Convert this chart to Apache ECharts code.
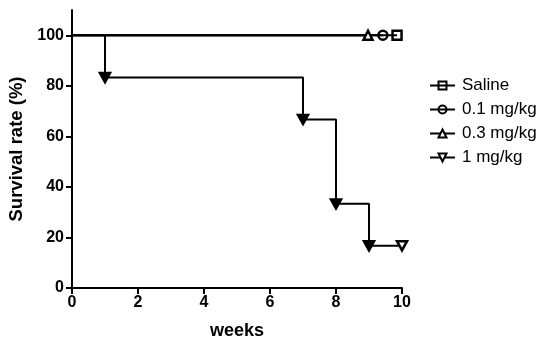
<!DOCTYPE html>
<html>
<head>
<meta charset="utf-8">
<script src="https://cdn.jsdelivr.net/npm/echarts@6/dist/echarts.min.js"></script>
<style>html,body{margin:0;padding:0;background:#fff}#c{width:550px;height:350px}</style>
</head>
<body>
<div id="c"></div>
<script>
var seriesNames = ['Saline', '0.1 mg/kg', '0.3 mg/kg', '1 mg/kg'];
var salineWeeks = [0, 9.85];
var salineSurv = [100, 100];
var dose01Weeks = [0, 9.42];
var dose01Surv = [100, 100];
var dose03Weeks = [0, 8.97];
var dose03Surv = [100, 100];
var dose1Weeks = [0, 1, 7, 8, 9, 10];
var dose1Surv = [100, 83.3, 66.7, 33.3, 16.7, 16.7];
var xTicks = [0, 2, 4, 6, 8, 10];
var yTicks = [0, 20, 40, 60, 80, 100];

function pairs(xs, ys) { return xs.map(function (x, i) { return [x, ys[i]]; }); }
function endMarked(xs, ys) {
  return pairs(xs, ys).map(function (p, i) {
    return i === xs.length - 1 ? { value: p } : { value: p, symbol: 'none' };
  });
}
var dose1Data = pairs(dose1Weeks, dose1Surv).map(function (p, i, arr) {
  if (i === 0) return { value: p, symbol: 'none' };
  if (i === arr.length - 1) return { value: p };
  return { value: p, itemStyle: { color: '#000' } };
});

var font = 'Liberation Sans, Arial, sans-serif';
var lineStyle = { color: '#000', width: 2 };
function mk(name, data, symbol, size, fill) {
  return {
    name: name, type: 'line', data: data, symbol: symbol, symbolSize: size,
    step: name === '1 mg/kg' ? 'end' : false,
    lineStyle: lineStyle,
    itemStyle: { color: fill, borderColor: '#000', borderWidth: 2.5 },
    showAllSymbol: true, animation: false, z: name === '1 mg/kg' ? 3 : 2
  };
}

var chart = echarts.init(document.getElementById('c'));
chart.setOption({
  animation: false,
  grid: { left: 72, right: 148, top: 10, bottom: 62, containLabel: false, outerBoundsMode: 'none' },
  legend: {
    orient: 'vertical', left: 424, top: 72, itemWidth: 25, itemHeight: 10, itemGap: 7,
    data: seriesNames,
    textStyle: { fontFamily: font, fontSize: 17, color: '#000', padding: [0, 0, 0, 2] }
  },
  xAxis: {
    type: 'value', min: 0, max: 10, interval: 2,
    name: 'weeks', nameLocation: 'middle', nameGap: 34,
    nameTextStyle: { fontFamily: font, fontSize: 18, fontWeight: 'bold', color: '#000' },
    axisLine: { lineStyle: { color: '#000', width: 2 } },
    axisTick: { length: 6, lineStyle: { color: '#000', width: 2 } },
    axisLabel: { fontFamily: font, fontSize: 16, fontWeight: 'bold', color: '#000', margin: 7,
      formatter: function (v) { return xTicks.indexOf(v) >= 0 ? String(v) : ''; } },
    splitLine: { show: false }
  },
  yAxis: {
    type: 'value', min: 0, max: 110, interval: 10,
    name: 'Survival rate (%)', nameLocation: 'middle', nameGap: 44,
    nameTextStyle: { fontFamily: font, fontSize: 18.5, fontWeight: 'bold', color: '#000' },
    axisLine: { show: true, lineStyle: { color: '#000', width: 2 } },
    axisTick: { show: true, length: 6, lineStyle: { color: '#000', width: 2 }, customValues: yTicks },
    axisLabel: { fontFamily: font, fontSize: 16, fontWeight: 'bold', color: '#000', margin: 8, customValues: yTicks },
    splitLine: { show: false }
  },
  series: [
    mk('Saline', endMarked(salineWeeks, salineSurv), 'rect', 9, 'transparent'),
    mk('0.1 mg/kg', endMarked(dose01Weeks, dose01Surv), 'circle', 9, 'transparent'),
    mk('0.3 mg/kg', endMarked(dose03Weeks, dose03Surv), 'triangle', 9, '#fff'),
    mk('1 mg/kg', dose1Data, 'path://M0,0 L10,0 L5,9 Z', [10, 9], '#fff')
  ]
});
</script>
</body>
</html>
